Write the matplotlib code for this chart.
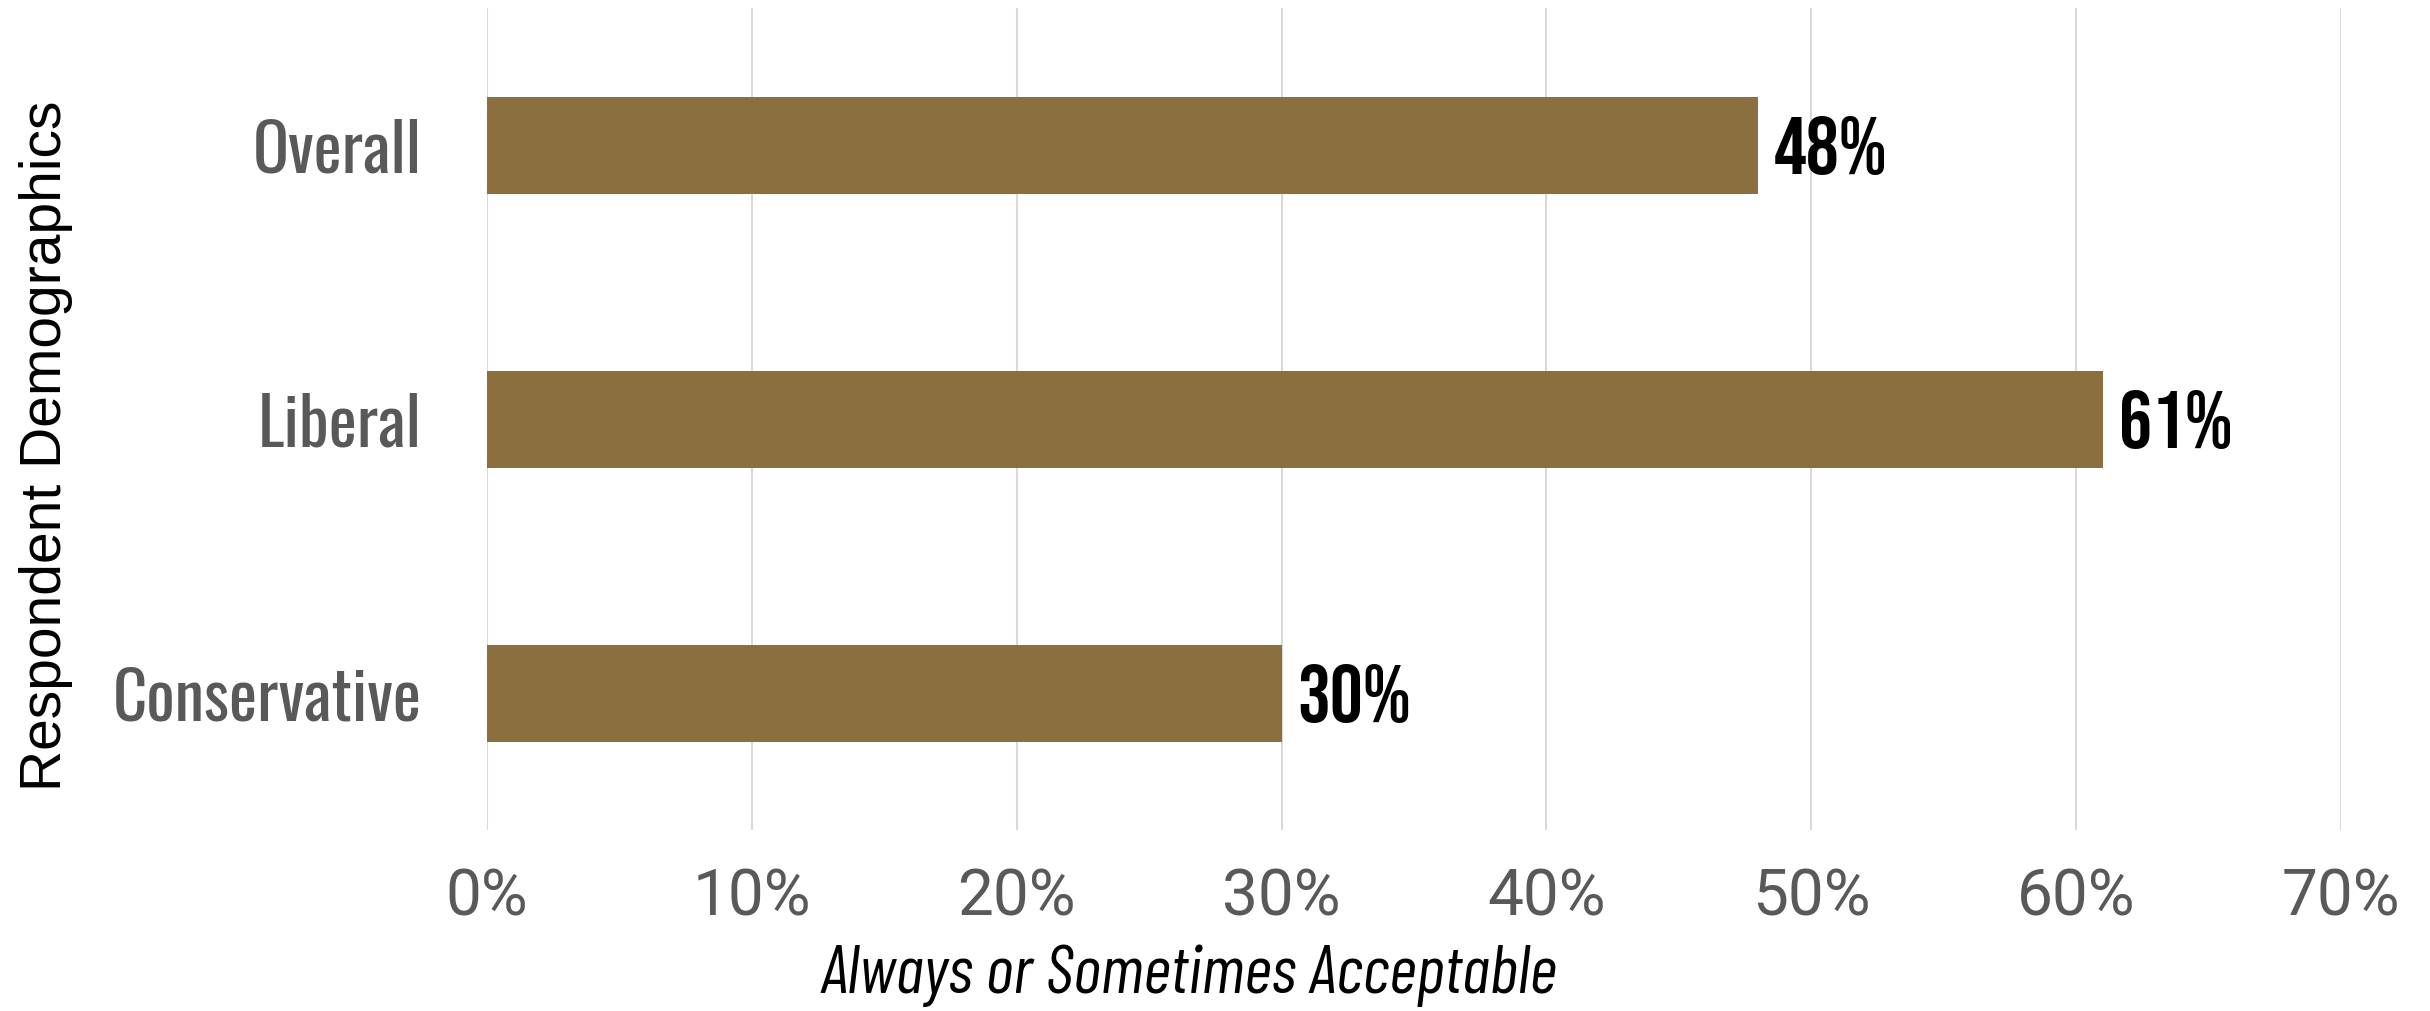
import matplotlib
matplotlib.use("Agg")
import matplotlib.pyplot as plt
from matplotlib import font_manager
from matplotlib.ticker import PercentFormatter

categories = ["Overall", "Liberal", "Conservative"]
values = [48, 61, 30]
x_ticks = [0, 10, 20, 30, 40, 50, 60, 70]

fonts = font_manager.fontManager.ttflist
installed = {f.name for f in fonts}


def pick(*names: str) -> str:
    for n in names:
        if n in installed:
            return n
    return "DejaVu Sans"


def has_bold(name: str) -> bool:
    for f in fonts:
        if f.name == name and isinstance(f.weight, int) and f.weight >= 600:
            return True
    return False


LABEL_FONT = pick("Oswald", "Barlow Condensed", "Roboto Condensed", "Fjalla One")
if has_bold(LABEL_FONT):
    VALUE_FONT, VALUE_SIZE = LABEL_FONT, 44
else:
    VALUE_FONT, VALUE_SIZE = pick("Bebas Neue", "Fjalla One", "Anton", LABEL_FONT), 59
ITALIC_FONT = pick("Barlow Condensed", "Roboto Condensed", "Archivo Narrow", "PT Sans Narrow")
TICK_FONT = pick("Roboto", "Noto Sans")
BAR_COLOR = "#8B6F3F"
GRAY = "#595959"


def plot() -> None:
    fig = plt.figure(figsize=(24.3, 10.11), dpi=100)
    ax = fig.add_axes([0.2004, 0.179, 0.763, 0.813])

    y = list(range(len(categories)))
    ax.barh(y, values, height=0.354, color=BAR_COLOR, zorder=2)

    for yi, v in zip(y, values):
        ax.text(v + 0.6, yi, f"{v}%", va="center", ha="left",
                fontsize=VALUE_SIZE, fontweight="bold", family=VALUE_FONT, color="black")

    ax.set_ylim(len(categories) - 0.5, -0.5)
    ax.set_yticks(y)
    ax.set_yticklabels(categories, family=LABEL_FONT, fontsize=48, color=GRAY)

    ax.set_xlim(0, 70)
    ax.set_xticks(x_ticks)
    ax.xaxis.set_major_formatter(PercentFormatter(decimals=0))
    for lbl in ax.get_xticklabels():
        lbl.set_family(TICK_FONT)
        lbl.set_fontsize(46)
        lbl.set_color(GRAY)

    ax.tick_params(axis="both", length=0)
    ax.tick_params(axis="x", pad=26)
    ax.tick_params(axis="y", pad=47)
    ax.grid(True, axis="x", color="#D9D9D9", linewidth=1.5, zorder=0)
    for s in ax.spines.values():
        s.set_visible(False)

    fig.text(0.489, 0.035, "Always or Sometimes Acceptable", ha="center", va="center",
             family=ITALIC_FONT, style="italic", fontsize=49, color="black")
    fig.text(0.019, 0.559, "Respondent Demographics", rotation=90, ha="center", va="center",
             family="Liberation Sans", fontsize=41, color="black")

    fig.savefig("out.png", dpi=100)


if __name__ == "__main__":
    plot()
